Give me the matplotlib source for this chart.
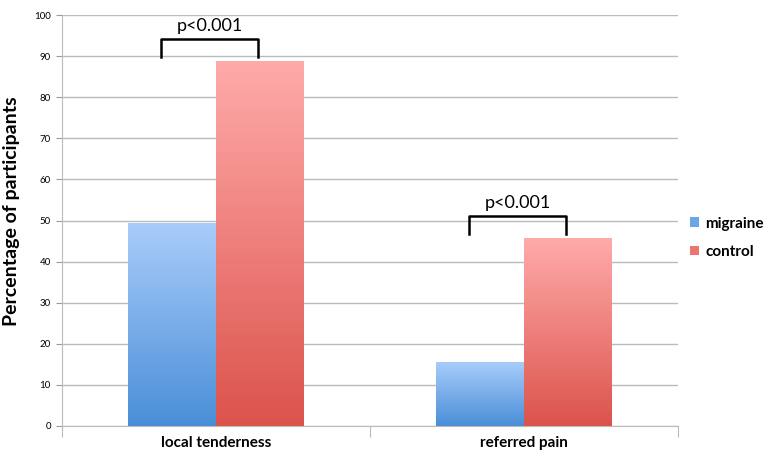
import matplotlib
matplotlib.use('Agg')
import matplotlib.pyplot as plt
import numpy as np
from matplotlib.colors import LinearSegmentedColormap
from matplotlib.patches import Patch

# data
categories = ['local tenderness', 'referred pain']
migraine = [49.4, 15.6]
control = [88.8, 45.7]
p_labels = ['p<0.001', 'p<0.001']

plt.rcParams['font.family'] = ['Lato', 'DejaVu Sans']

fig = plt.figure(figsize=(7.69, 4.59), dpi=100)
ax = fig.add_axes([0.0806, 0.0719, 0.8011, 0.8951])

x = np.arange(len(categories))
w = 0.285
blue_cmap = LinearSegmentedColormap.from_list('b', ['#4a8ed8', '#a9cdfa'])
red_cmap = LinearSegmentedColormap.from_list('r', ['#dc534c', '#ffabaa'])

b1 = ax.bar(x - w / 2, migraine, w, color='none', zorder=3)
b2 = ax.bar(x + w / 2, control, w, color='none', zorder=3)

grad = np.linspace(0, 1, 256).reshape(-1, 1)
for bars, cmap in ((b1, blue_cmap), (b2, red_cmap)):
    for bar in bars:
        x0, y0 = bar.get_x(), bar.get_y()
        x1, y1 = x0 + bar.get_width(), y0 + bar.get_height()
        im = ax.imshow(grad, cmap=cmap, origin='lower', aspect='auto',
                       extent=[x0, x1, y0, y1], zorder=3)
        im.set_clip_path(bar)

ax.set_xlim(-0.5, 1.5)
ax.set_ylim(0, 100)
ax.set_yticks(np.arange(0, 101, 10))
ax.tick_params(axis='y', labelsize=7, length=4, color='#999999', pad=4)
ax.yaxis.grid(True, color='#bbbbbb', linewidth=1, zorder=0)
ax.set_axisbelow(True)

ax.set_xticks([-0.5, 0.5, 1.5], minor=False)
ax.set_xticklabels([])
ax.tick_params(axis='x', length=8, color='#bbbbbb')
ax.set_xticks(x, minor=True)
ax.set_xticklabels(categories, minor=True, fontsize=11, fontweight='bold')
ax.tick_params(axis='x', which='minor', length=0, pad=7)

for s in ['top', 'right']:
    ax.spines[s].set_visible(False)
ax.spines['left'].set_color('#bbbbbb')
ax.spines['bottom'].set_color('#bbbbbb')

ax.set_ylabel('Percentage of participants', fontsize=14, fontweight='bold')
ax.yaxis.set_label_coords(-0.068, 0.522)

# significance brackets
for i, (m, c, lab) in enumerate(zip(migraine, control, p_labels)):
    top = c + 5.4
    ax.plot([i - 0.178, i - 0.178, i + 0.135, i + 0.135],
            [top - 4.4, top, top, top - 4.4], color='black', lw=1.8, zorder=4)
    ax.text(i - 0.02, top + 1.2, lab, ha='center', va='bottom', fontsize=13)

handles = [Patch(facecolor='#6aa6e8', label='migraine'),
           Patch(facecolor='#ee7470', label='control')]
fig.legend(handles=handles, loc='center left', bbox_to_anchor=(0.897, 0.482),
           frameon=False, handlelength=0.6, handleheight=0.6,
           handletextpad=0.4, labelspacing=0.95, prop={'weight': 'bold', 'size': 11},
           borderaxespad=0, borderpad=0)

fig.savefig('out.png', dpi=100)
